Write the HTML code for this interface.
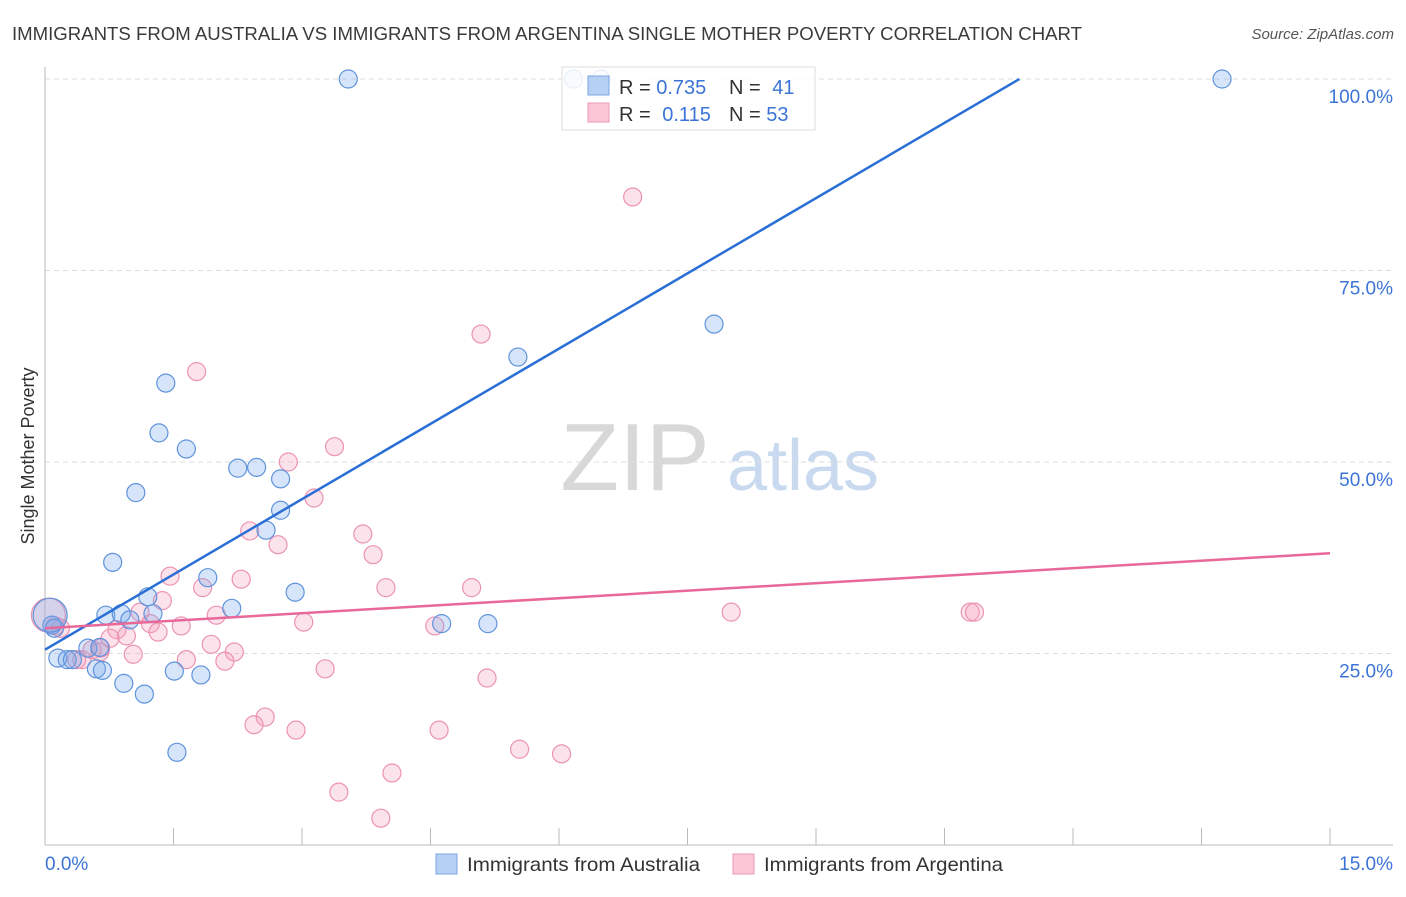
<!DOCTYPE html>
<html><head><meta charset="utf-8">
<style>
body{margin:0;background:#fff;font-family:"Liberation Sans",sans-serif;}
svg text{font-family:"Liberation Sans",sans-serif;}
</style></head>
<body>
<svg id="chart" width="1406" height="892" viewBox="0 0 1406 892">
<text x="12" y="40" font-size="18" fill="#3a3a3a" textLength="1070" lengthAdjust="spacingAndGlyphs">IMMIGRANTS FROM AUSTRALIA VS IMMIGRANTS FROM ARGENTINA SINGLE MOTHER POVERTY CORRELATION CHART</text>
<text x="1394" y="39" font-size="15" fill="#555" text-anchor="end" font-style="italic">Source: ZipAtlas.com</text>
<text transform="translate(34,456) rotate(-90)" font-size="18" fill="#333" text-anchor="middle">Single Mother Poverty</text>
<g>
<text x="635" y="490" font-size="96" fill="#d8d8d8" font-family="Liberation Serif" text-anchor="middle">ZIP</text>
<text x="803" y="490" font-size="72" fill="#c9daf0" text-anchor="middle">atlas</text>
</g>
<g id="grid"></g>
<g id="axes"></g>
<g id="pts"></g>
<g id="lines"></g>
<g>
<rect x="562" y="67" width="253" height="63" fill="#fff" fill-opacity="0.85" stroke="#ddd"/>
<rect x="588" y="76" width="21" height="19" fill="#b5d0f3" stroke="#7aa6e0"/>
<rect x="588" y="103" width="21" height="19" fill="#fbc7d6" stroke="#ee9ab4"/>
<text x="619" y="94" font-size="20" fill="#333">R = <tspan fill="#3b74d6">0.735</tspan></text>
<text x="729" y="94" font-size="20" fill="#333">N = <tspan fill="#3b74d6" dx="6">41</tspan></text>
<text x="619" y="121" font-size="20" fill="#333">R = <tspan fill="#3b74d6" dx="6">0.115</tspan></text>
<text x="729" y="121" font-size="20" fill="#333">N = <tspan fill="#3b74d6">53</tspan></text>
</g>
<g>
<rect x="436" y="854" width="21" height="20" fill="#b5d0f3" stroke="#7aa6e0"/>
<text x="467" y="871" font-size="19.5" fill="#333" textLength="233" lengthAdjust="spacingAndGlyphs">Immigrants from Australia</text>
<rect x="733" y="854" width="21" height="20" fill="#fbc7d6" stroke="#ee9ab4"/>
<text x="764" y="871" font-size="19.5" fill="#333" textLength="239" lengthAdjust="spacingAndGlyphs">Immigrants from Argentina</text>
</g>
</svg>
<script>
const xTicks=[0,1.5,3,4.5,6,7.5,9,10.5,12,13.5,15];
const yTicks=[25,50,75,100];
const yTickLabels=["25.0%","50.0%","75.0%","100.0%"];
const xEndLabels=["0.0%","15.0%"];
const ausX=[3.54,6.17,6.49,13.74,7.81,5.52,1.41,1.33,1.65,1.06,2.25,2.47,2.75,2.75,2.58,0.79,1.90,1.20,2.92,2.18,0.71,0.89,1.26,0.99,4.63,5.17,0.08,0.11,0.50,0.64,0.15,0.26,0.32,0.60,0.67,0.92,1.16,1.51,1.82,1.54,0.06];
const ausY=[100,100,100,100,68.0,63.7,60.3,53.8,51.7,46.0,49.2,49.3,47.8,43.7,41.1,36.9,34.9,32.4,33.0,30.9,30.0,30.2,30.2,29.4,28.9,28.9,28.7,28.3,25.7,25.8,24.4,24.2,24.2,23.0,22.8,21.1,19.7,22.7,22.2,12.1,30.0];
const argX=[6.86,5.09,1.77,3.38,2.84,3.14,2.39,2.72,3.71,3.83,1.46,2.29,3.98,4.98,1.37,1.84,1.11,2.00,1.23,1.59,3.02,1.32,0.84,0.95,4.55,8.01,10.80,10.85,1.94,2.21,1.03,0.65,0.55,0.43,0.37,1.65,2.10,3.27,5.16,2.57,2.44,2.93,4.60,5.54,6.03,4.05,3.43,3.92,0.12,0.18,0.04,0.76,0.64];
const argY=[84.6,66.7,61.8,52.0,50.0,45.3,41.0,39.2,40.6,37.9,35.1,34.7,33.6,33.6,31.9,33.6,30.4,30.0,28.9,28.6,29.1,27.8,28.1,27.3,28.6,30.4,30.4,30.4,26.2,25.2,24.9,25.7,25.5,24.2,24.2,24.2,24.0,23.0,21.8,16.7,15.7,15.0,15.0,12.5,11.9,9.4,6.9,3.5,28.6,28.3,30.0,27.0,25.2];
const ausFit=[25.5,6.55]; // intercept, slope
const argFit=[28.3,0.653];
const X0=45,X1=1330,Y0=845,Y100=79;
const sx=v=>X0+(v/15)*(X1-X0);
const sy=v=>Y0-(v/100)*(Y0-Y100);
const NS="http://www.w3.org/2000/svg";
function mk(tag,attrs,parent){const e=document.createElementNS(NS,tag);for(const k in attrs)e.setAttribute(k,attrs[k]);parent.appendChild(e);return e;}
const grid=document.getElementById('grid'),axes=document.getElementById('axes'),pts=document.getElementById('pts'),lines=document.getElementById('lines');
yTicks.forEach((t,i)=>{
 const l=mk('line',{x1:X0,x2:1393,y1:sy(t),y2:sy(t),stroke:'#ddd','stroke-dasharray':'5,4'},grid);
 
 
 const tx=mk('text',{x:1393,y:sy(t)+24,'font-size':19,fill:'#3b74d6','text-anchor':'end'},axes);
 tx.textContent=yTickLabels[i];
 
 
});
const ya=mk('line',{x1:X0,x2:X0,y1:67,y2:Y0,stroke:'#bbb'},axes);


const xa=mk('line',{x1:X0,x2:1393,y1:Y0,y2:Y0,stroke:'#bbb'},axes);


xTicks.forEach(t=>{
 const l=mk('line',{x1:sx(t),x2:sx(t),y1:828,y2:Y0,stroke:'#bbb'},axes);
 
 
});
const xl0=mk('text',{x:45,y:870,'font-size':19,fill:'#3b74d6'},axes);xl0.textContent=xEndLabels[0];


const xl1=mk('text',{x:1393,y:870,'font-size':19,fill:'#3b74d6','text-anchor':'end'},axes);xl1.textContent=xEndLabels[1];


function drawPts(xs,ys,fill,stroke,name){
 xs.forEach((x,i)=>{
  const big=(x<0.1&&i===xs.length-1)||(name==='argentina-point'&&i===50);
  const c=mk('circle',{cx:sx(x),cy:sy(ys[i]),r:big?17:9,fill:fill,stroke:stroke,'stroke-width':1.2},pts);
  
  
 });
}
drawPts(argX,argY,'rgba(244,160,188,0.3)','#ec93b0','argentina-point');
drawPts(ausX,ausY,'rgba(120,170,235,0.3)','#5f93dc','australia-point');
const xEndAus=(100-ausFit[0])/ausFit[1];
const bl=mk('line',{x1:sx(0),y1:sy(ausFit[0]),x2:sx(xEndAus),y2:sy(100),stroke:'#2a6fd6','stroke-width':2.5},lines);


const pl=mk('line',{x1:sx(0),y1:sy(argFit[0]),x2:sx(15),y2:sy(argFit[0]+argFit[1]*15),stroke:'#e8689a','stroke-width':2.5},lines);


</script>
</body></html>
